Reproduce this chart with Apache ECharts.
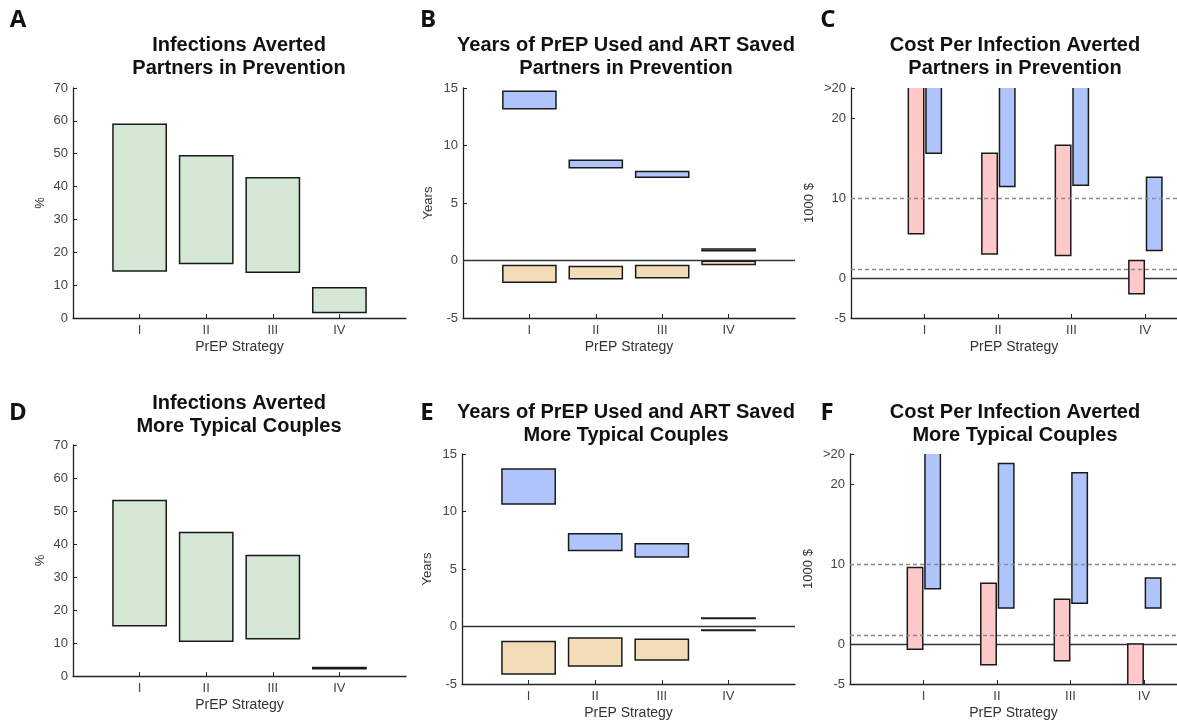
<!DOCTYPE html>
<html>
<head>
<meta charset="utf-8">
<script src="https://cdn.jsdelivr.net/npm/echarts@6/dist/echarts.min.js"></script>
<style>
  html, body { margin: 0; padding: 0; background: #fff; }
  #chart { width: 1177px; height: 720px; }
</style>
</head>
<body>
<div id="chart"></div>
<script>
const strategies = ['I', 'II', 'III', 'IV'];

// A / D: infections averted (%), low and high ends
const aLow = [14.3, 16.6, 13.9, 1.7];
const aHigh = [59.0, 49.4, 42.7, 9.2];
const dLow = [15.2, 10.5, 11.3, 2.2];
const dHigh = [53.2, 43.5, 36.5, 2.6];

// B / E: years of PrEP used (positive) and ART saved (negative)
const bPrepLow = [13.19, 8.06, 7.24, 0.85];
const bPrepHigh = [14.72, 8.72, 7.74, 1.0];
const bArtLow = [-1.89, -1.59, -1.5, -0.35];
const bArtHigh = [-0.43, -0.52, -0.43, -0.06];
const ePrepLow = [10.66, 6.61, 6.05, 0.7];
const ePrepHigh = [13.69, 8.06, 7.19, 0.74];
const eArtLow = [-4.13, -3.43, -2.91, -0.34];
const eArtHigh = [-1.31, -0.99, -1.11, -0.3];

// C / F: cost per infection averted (1000 $), values above 20 are cut at the top
const cPinkLow = [5.54, 3.0, 2.8, -1.96];
const cPinkHigh = [25, 15.6, 16.6, 2.2];
const cBlueLow = [15.6, 11.45, 11.6, 3.45];
const cBlueHigh = [25, 25, 25, 12.6];
const fPinkLow = [-0.66, -2.6, -2.1, -7];
const fPinkHigh = [9.55, 7.6, 5.6, 0];
const fBlueLow = [6.9, 4.5, 5.1, 4.5];
const fBlueHigh = [25, 22.55, 21.4, 8.25];

const costThresholds = [1.1, 10];
const costTicks = [-5, 0, 10, 20, 23.75];

const GREEN = '#d5e8d6';
const BLUE = '#b0c4fc';
const TAN = '#f3dcb8';
const PINK = '#fec9c9';
const FONT = 'Liberation Sans';

const chart = echarts.init(document.getElementById('chart'));

function rows(low, high) {
    return strategies.map((s, i) => [i + 1, low[i], high[i]]);
}

function barItem(offset, width, color) {
    return function (params, api) {
        const x = api.value(0) + offset;
        const p1 = api.coord([x - width / 2, api.value(2)]);
        const p2 = api.coord([x + width / 2, api.value(1)]);
        return {
            type: 'rect',
            shape: {x: p1[0], y: p1[1], width: p2[0] - p1[0], height: p2[1] - p1[1]},
            style: {fill: color, stroke: '#1a1a1a', lineWidth: 1.5}
        };
    };
}

function bars(idx, low, high, color, offset, width) {
    return {
        type: 'custom',
        xAxisIndex: idx, yAxisIndex: idx,
        clip: true,
        z: 2,
        renderItem: barItem(offset, width, color),
        data: rows(low, high)
    };
}

function zeroLine(idx) {
    return {
        type: 'line', xAxisIndex: idx, yAxisIndex: idx, data: [], z: 1,
        markLine: {
            silent: true, symbol: 'none', z: 1, label: {show: false},
            lineStyle: {color: '#333', width: 1.3, type: 'solid'},
            data: [{yAxis: 0}]
        }
    };
}

function dashLines(idx) {
    return {
        type: 'line', xAxisIndex: idx, yAxisIndex: idx, data: [], z: 5,
        markLine: {
            silent: true, symbol: 'none', z: 5, label: {show: false},
            lineStyle: {color: '#8a8a8a', width: 1.3, type: [4, 3]},
            data: costThresholds.map(v => ({yAxis: v}))
        }
    };
}

const grids = [
    {left: 73, top: 88, width: 333, height: 230},
    {left: 463, top: 88, width: 332, height: 230},
    {left: 851, top: 88, width: 326, height: 230},
    {left: 73, top: 445, width: 333, height: 231},
    {left: 462, top: 454, width: 333, height: 230},
    {left: 850, top: 454, width: 327, height: 230}
];
const xMax = [5, 5, 4.435, 5, 5, 4.45];

const axisText = {color: '#444', fontFamily: FONT, fontSize: 13};

const xAxes = grids.map((g, i) => ({
    type: 'value', gridIndex: i, min: 0, max: xMax[i],
    name: 'PrEP Strategy', nameLocation: 'middle', nameGap: 22,
    nameTextStyle: {color: '#333', fontFamily: FONT, fontSize: 14},
    axisLine: {onZero: false, lineStyle: {color: '#222', width: 1.3}},
    axisTick: {inside: true, length: 4, customValues: [1, 2, 3, 4], lineStyle: {color: '#222'}},
    axisLabel: Object.assign({margin: 6, customValues: [1, 2, 3, 4],
        formatter: v => strategies[Math.round(v) - 1]}, axisText),
    splitLine: {show: false}
}));

function yAxis(i, min, max, interval, name, gap) {
    return {
        type: 'value', gridIndex: i, min: min, max: max, interval: interval,
        name: name, nameLocation: 'middle', nameRotate: 90, nameGap: gap,
        nameTextStyle: {color: '#333', fontFamily: FONT, fontSize: 13},
        axisLine: {show: true, onZero: false, lineStyle: {color: '#222', width: 1.3}},
        axisTick: {show: true, inside: true, length: 4, lineStyle: {color: '#222'}},
        axisLabel: Object.assign({margin: 5}, axisText),
        splitLine: {show: false}
    };
}

function costAxis(i) {
    const ax = yAxis(i, -5, 23.75, null, '1000 $', 35);
    delete ax.interval;
    ax.axisTick.customValues = costTicks;
    ax.axisLabel.customValues = costTicks;
    ax.axisLabel.formatter = v => (v > 20 ? '>20' : String(v));
    return ax;
}

const yAxes = [
    yAxis(0, 0, 70, 10, '%', 26),
    yAxis(1, -5, 15, 5, 'Years', 28),
    costAxis(2),
    yAxis(3, 0, 70, 10, '%', 26),
    yAxis(4, -5, 15, 5, 'Years', 28),
    costAxis(5)
];

const titleStyle = {fontFamily: FONT, fontWeight: 'bold', fontSize: 20, fill: '#111',
    textAlign: 'center', textVerticalAlign: 'middle', lineHeight: 23};
const letterStyle = {fontFamily: 'Open Sans', fontWeight: 'bold', fontSize: 24, fill: '#111',
    textAlign: 'center', textVerticalAlign: 'middle'};

function title(x, y, text) {
    return {type: 'text', x: x, y: y, style: Object.assign({text: text}, titleStyle)};
}
function letter(x, y, text) {
    return {type: 'text', x: x, y: y, style: Object.assign({text: text}, letterStyle)};
}

chart.setOption({
    animation: false,
    grid: grids.map(g => Object.assign({outerBoundsMode: 'none'}, g)),
    xAxis: xAxes,
    yAxis: yAxes,
    graphic: [
        letter(18, 20, 'A'), letter(428, 20, 'B'), letter(828, 20, 'C'),
        letter(18, 413, 'D'), letter(427, 413, 'E'), letter(827, 413, 'F'),
        title(239, 57, 'Infections Averted\nPartners in Prevention'),
        title(626, 57, 'Years of PrEP Used and ART Saved\nPartners in Prevention'),
        title(1015, 57, 'Cost Per Infection Averted\nPartners in Prevention'),
        title(239, 415, 'Infections Averted\nMore Typical Couples'),
        title(626, 424, 'Years of PrEP Used and ART Saved\nMore Typical Couples'),
        title(1015, 424, 'Cost Per Infection Averted\nMore Typical Couples')
    ],
    series: [
        bars(0, aLow, aHigh, GREEN, 0, 0.8),
        zeroLine(1),
        bars(1, bPrepLow, bPrepHigh, BLUE, 0, 0.8),
        bars(1, bArtLow, bArtHigh, TAN, 0, 0.8),
        zeroLine(2),
        bars(2, cPinkLow, cPinkHigh, PINK, -0.115, 0.21),
        bars(2, cBlueLow, cBlueHigh, BLUE, 0.125, 0.21),
        dashLines(2),
        bars(3, dLow, dHigh, GREEN, 0, 0.8),
        zeroLine(4),
        bars(4, ePrepLow, ePrepHigh, BLUE, 0, 0.8),
        bars(4, eArtLow, eArtHigh, TAN, 0, 0.8),
        zeroLine(5),
        bars(5, fPinkLow, fPinkHigh, PINK, -0.115, 0.21),
        bars(5, fBlueLow, fBlueHigh, BLUE, 0.125, 0.21),
        dashLines(5)
    ]
});
</script>
</body>
</html>
